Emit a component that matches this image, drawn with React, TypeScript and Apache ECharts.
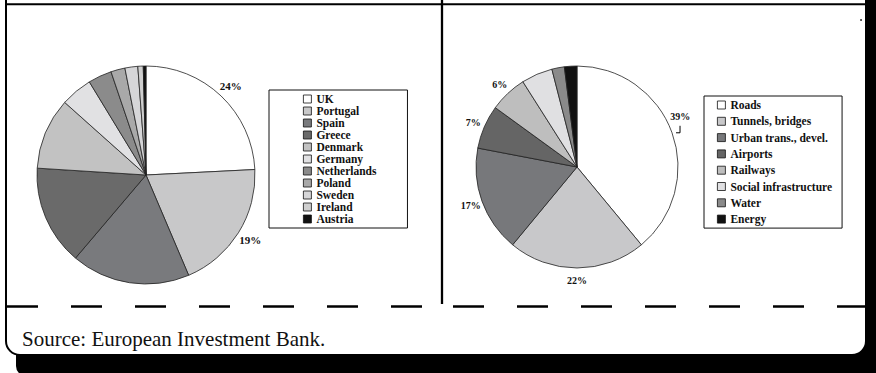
import React, { useEffect, useRef } from "react";
import * as echarts from "echarts";

const SERIF = "'Liberation Serif', 'Times New Roman', serif";

// Left pie: EIB lending by country (%)
const leftCountries = ["UK", "Portugal", "Spain", "Greece", "Denmark", "Germany", "Netherlands", "Poland", "Sweden", "Ireland", "Austria"];
const leftValues = [24.2, 19.4, 17.6, 14.8, 10.6, 4.7, 3.5, 2.1, 1.9, 0.8, 0.4];
const leftColors = ["#ffffff", "#c8c8c9", "#797a7d", "#6a6a6a", "#c2c2c2", "#e1e1e3", "#8b8b8b", "#a9a9a9", "#d6d6d8", "#cfcfcf", "#111111"];
const leftLabelled = ["UK", "Portugal"];

// Right pie: EIB lending by sector (%)
const rightSectors = ["Roads", "Tunnels, bridges", "Urban trans., devel.", "Airports", "Railways", "Social infrastructure", "Water", "Energy"];
const rightValues = [39, 22, 17, 7, 6, 5, 2, 2];
const rightColors = ["#ffffff", "#c8c8ca", "#77787b", "#656565", "#bebebe", "#e0e0e2", "#8a8a8a", "#111111"];
const rightLabelled = ["Roads", "Tunnels, bridges", "Urban trans., devel.", "Airports", "Railways"];
const bracketed = ["Roads"];

const sourceText = "Source: European Investment Bank.";

function buildData(names: string[], values: number[], colors: string[], labelled: string[]) {
  return names.map((name, i) => ({
    name,
    value: values[i],
    itemStyle: { color: colors[i] },
    label: { show: labelled.includes(name) },
    labelLine: { show: bracketed.includes(name) },
  }));
}

function pieSeries(center: number[], radius: number, data: any[], fontSize: number, lineLen: number) {
  return {
    type: "pie",
    center,
    radius,
    startAngle: 90,
    clockwise: true,
    avoidLabelOverlap: false,
    silent: true,
    minAngle: 0,
    itemStyle: { borderColor: "#222", borderWidth: 0.8 },
    label: {
      position: "outside",
      formatter: (p: any) => Math.round(p.percent) + "%",
      fontFamily: SERIF,
      fontWeight: "bold",
      fontSize,
      color: "#111",
      distanceToLabelLine: 0,
    },
    labelLine: { length: lineLen, length2: 0, lineStyle: { color: "#000", width: 1 } },
    labelLayout: (p: any) => {
      const out: any = { align: "center", verticalAlign: "middle" };
      if (bracketed.includes(data[p.dataIndex].name) && p.labelLinePoints) {
        const [x1, y1] = p.labelLinePoints[0];
        out.labelLinePoints = [
          [x1 + 4, y1],
          [x1 + 8, y1],
          [x1 + 8, y1 - 7],
        ];
        const r = p.labelRect;
        out.x = r.x - 3;
        out.y = r.y + r.height / 2 - 12;
      }
      return out;
    },
    emphasis: { disabled: true },
    data,
  };
}

function legendOf(names: string[], left: number, top: number, padding: number[], gap: number, lh: number) {
  return {
    data: names,
    orient: "vertical",
    left,
    top,
    padding,
    itemWidth: 8,
    itemHeight: 8,
    itemGap: gap,
    icon: "rect",
    selectedMode: false,
    borderColor: "#111",
    borderWidth: 1,
    itemStyle: { borderColor: "#111", borderWidth: 0.8 },
    textStyle: { fontFamily: SERIF, fontWeight: "bold", fontSize: 11.5, color: "#111", lineHeight: lh },
  };
}

export default function App() {
  const ref = useRef<HTMLDivElement>(null);
  useEffect(() => {
    document.body.style.margin = "0";
    if (!ref.current) return;
    const chart = echarts.init(ref.current, undefined, { renderer: "svg" });
    chart.setOption({
      animation: false,
      backgroundColor: "#ffffff",
      graphic: {
        elements: [
          { type: "rect", shape: { x: 16, y: -20, width: 880, height: 396, r: 10 }, style: { fill: "#000" } },
          { type: "rect", shape: { x: 6, y: -20, width: 860, height: 375, r: [0, 0, 14, 14] }, style: { fill: "#fff", stroke: "#000", lineWidth: 2 } },
          { type: "line", shape: { x1: 6, y1: 4.3, x2: 866, y2: 4.3 }, style: { stroke: "#000", lineWidth: 2 } },
          { type: "line", shape: { x1: 442, y1: 0, x2: 442, y2: 304 }, style: { stroke: "#000", lineWidth: 2.3 } },
          { type: "line", shape: { x1: 7, y1: 306.5, x2: 441, y2: 306.5 }, style: { stroke: "#000", lineWidth: 2.5, lineDash: [31, 33] } },
          { type: "line", shape: { x1: 453, y1: 306.5, x2: 866, y2: 306.5 }, style: { stroke: "#000", lineWidth: 2.5, lineDash: [31, 33] } },
          { type: "circle", shape: { cx: 861, cy: 20, r: 0.8 }, style: { fill: "#000" } },
          {
            type: "text",
            x: 22,
            y: 339,
            style: { text: sourceText, fontFamily: SERIF, fontSize: 21, fill: "#111", verticalAlign: "middle", align: "left" },
          },
        ],
      },
      legend: [
        legendOf(leftCountries, 269, 90, [3, 31, 3, 34], 0, 11.8),
        legendOf(rightSectors, 704, 96, [3, 10, 3, 13], 4.3, 12),
      ],
      series: [
        pieSeries([146, 175], 109, buildData(leftCountries, leftValues, leftColors, leftLabelled), 11, 14),
        pieSeries([577, 167], 101, buildData(rightSectors, rightValues, rightColors, rightLabelled), 10, 12),
      ],
    });
    return () => chart.dispose();
  }, []);
  return <div ref={ref} style={{ width: 876, height: 373 }} />;
}
